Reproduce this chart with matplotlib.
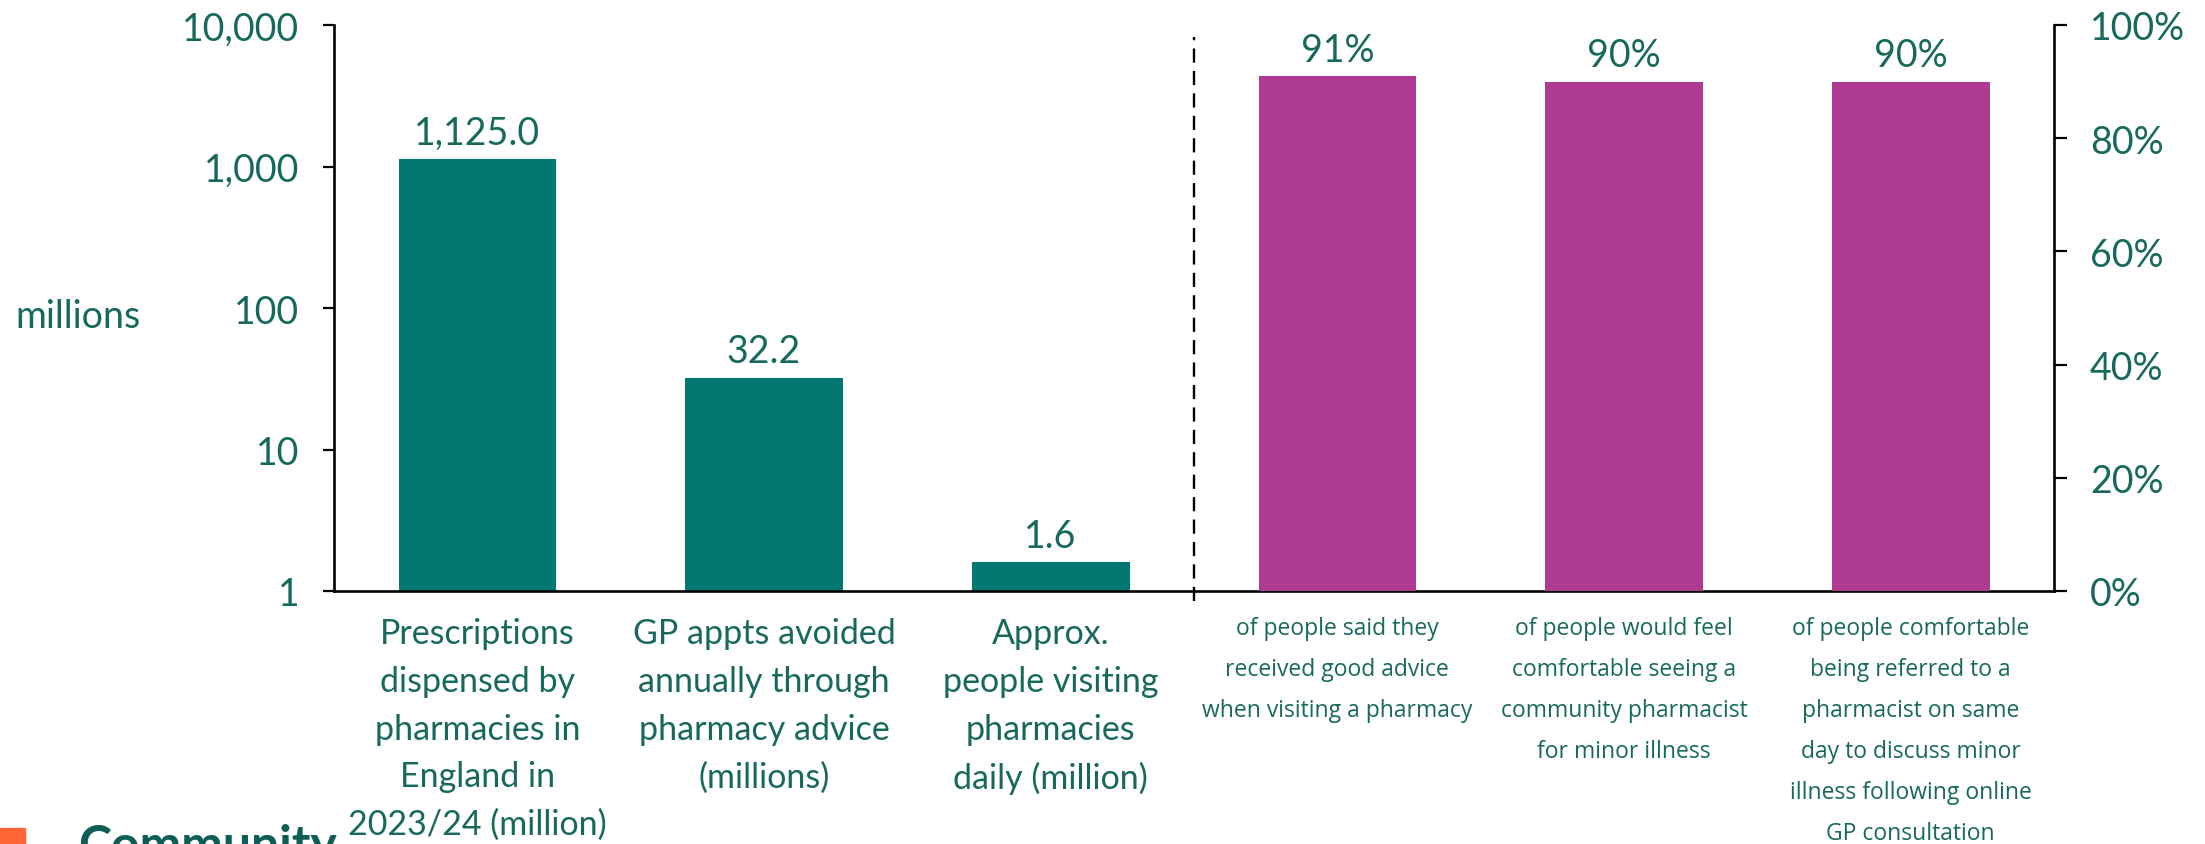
import matplotlib.pyplot as plt
from matplotlib.patches import Rectangle
from matplotlib.ticker import FixedLocator, NullLocator

# values
left_labels = ['Prescriptions\ndispensed by\npharmacies in\nEngland in\n2023/24 (million)',
               'GP appts avoided\nannually through\npharmacy advice\n(millions)',
               'Approx.\npeople visiting\npharmacies\ndaily (million)']
left_values = [1125.0, 32.2, 1.6]

right_labels = ['of people said they\nreceived good advice\nwhen visiting a pharmacy',
                'of people would feel\ncomfortable seeing a\ncommunity pharmacist\nfor minor illness',
                'of people comfortable\nbeing referred to a\npharmacist on same\nday to discuss minor\nillness following online\nGP consultation']
right_values = [91, 90, 90]

log_ticks = [1, 10, 100, 1000, 10000]
pct_ticks = [0, 20, 40, 60, 80, 100]

green = '#037870'
purple = '#ae3a92'
text_col = '#17695c'
main_font = 'Lato'
small_font = 'Open Sans'
fs = 27

fig = plt.figure(figsize=(22.05, 8.45), dpi=100)
ax = fig.add_axes([334 / 2205, 1 - 592 / 845, (2054 - 334) / 2205, (592 - 26) / 845])
ax2 = ax.twinx()

n_left = len(left_values)
x_left = list(range(n_left))
x_right = [n_left + i for i in range(len(right_values))]

# left part: log scale, millions
ax.set_yscale('log')
ax.set_ylim(1, 10000)
bars_l = ax.bar(x_left, left_values, width=0.55, color=green, zorder=2)
ax.bar_label(bars_l, labels=['{:,.1f}'.format(v) for v in left_values], padding=6,
             color=text_col, fontsize=fs, family=main_font)

ax.yaxis.set_major_locator(FixedLocator(log_ticks))
ax.yaxis.set_minor_locator(NullLocator())
ax.set_yticklabels(['{:,}'.format(t) for t in log_ticks])

# right part: percentages
ax2.set_ylim(0, 100)
bars_r = ax2.bar(x_right, right_values, width=0.55, color=purple, zorder=2)
ax2.bar_label(bars_r, labels=['{}%'.format(v) for v in right_values], padding=6,
              color=text_col, fontsize=fs, family=main_font)
ax2.set_yticks(pct_ticks)
ax2.set_yticklabels(['{}%'.format(t) for t in pct_ticks])

ax.set_xlim(-0.5, n_left + len(right_values) - 0.5)

for a in (ax, ax2):
    a.spines['top'].set_visible(False)
    for s in a.spines.values():
        s.set_linewidth(1.9)
        s.set_color('black')
ax.spines['right'].set_visible(False)
ax2.spines['left'].set_visible(False)
ax2.spines['bottom'].set_visible(False)

ax.tick_params(axis='y', length=8, width=1.6, pad=17, labelcolor=text_col, labelsize=fs)
ax2.tick_params(axis='y', length=9, width=1.6, pad=17, labelcolor=text_col, labelsize=fs)
for lab in ax.get_yticklabels() + ax2.get_yticklabels():
    lab.set_family(main_font)

# category labels under the bars
ax.set_xticks([])
for x, lab in zip(x_left, left_labels):
    ax.annotate(lab, xy=(x, 0), xycoords=('data', 'axes fraction'), xytext=(0, -19),
                textcoords='offset points', ha='center', va='top', color=text_col,
                fontsize=24.5, family=main_font, linespacing=1.6, annotation_clip=False)
for x, lab in zip(x_right, right_labels):
    ax.annotate(lab, xy=(x, 0), xycoords=('data', 'axes fraction'), xytext=(0, -18),
                textcoords='offset points', ha='center', va='top', color=text_col,
                fontsize=16.5, family=small_font, linespacing=1.95, annotation_clip=False)

# divider between the two groups
ax.axvline(n_left - 0.5, ymin=-0.018, ymax=0.979, color='black', lw=1.7,
           linestyle=(0, (6, 3.5)), clip_on=False, zorder=3)

ax.text(-0.185, 0.485, 'millions', transform=ax.transAxes, ha='left', va='center',
        color=text_col, fontsize=fs, family=main_font)

# cut-off footer
fig.patches.append(Rectangle((0, 0), 25 / 2205, 16 / 845, transform=fig.transFigure,
                             color='#ff6633', zorder=5))
fig.text(78 / 2205, 1 - 824 / 845, 'Community', ha='left', va='top', color='#0e5e55',
         fontsize=36, fontweight='bold', family=main_font)

fig.savefig('out.png', dpi=100)
